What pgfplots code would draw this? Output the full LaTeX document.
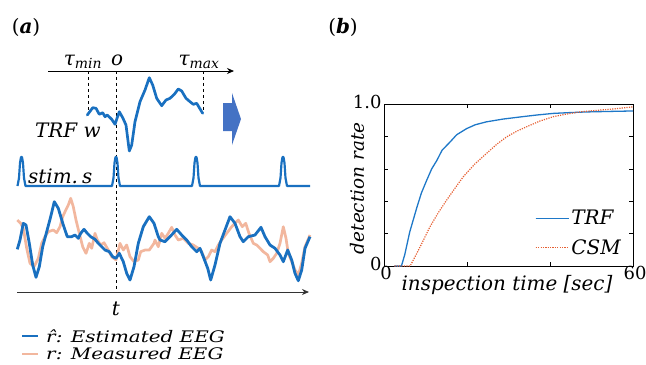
\documentclass[border=0pt]{standalone}
\usepackage{pgfplots}
\pgfplotsset{compat=1.18}
\usetikzlibrary{arrows.meta}
\usepackage{fontspec}
\setmainfont{DejaVu Serif}
\definecolor{eegblue}{RGB}{25,112,192}
\definecolor{salmon}{RGB}{242,183,158}
\definecolor{arrowblue}{RGB}{68,114,196}
\definecolor{trfblue}{RGB}{30,120,200}
\definecolor{csmred}{RGB}{230,95,50}
\newcommand\fs{\fontsize{20}{24}\selectfont}
\newcommand\fsl{\fontsize{16}{19}\selectfont}
\newcommand\fsy{\fontsize{18.5}{22}\selectfont}
\newcommand\fst{\fontsize{18}{21}\selectfont}
\begin{document}
\begin{tikzpicture}
\useasboundingbox (0,0) rectangle (646bp,-365bp);
% ---------------- panel (a) ----------------
\begin{axis}[at={(0bp,0bp)}, anchor=north west, scale only axis,
  width=320bp, height=365bp, xmin=0, xmax=320, ymin=0, ymax=365,
  y dir=reverse, hide axis, clip=false]
% top lag axis
\addplot[black, line width=0.8pt, -{Stealth[length=7bp,width=6bp]}] coordinates {(48,71) (234,71)};
% dashed guides
\addplot[black, dashed, line width=0.6pt] coordinates {(88,71) (88,115)};
\addplot[black, dashed, line width=0.6pt] coordinates {(116,71) (116,292)};
\addplot[black, dashed, line width=0.6pt] coordinates {(203,71) (203,111)};
% TRF w
\addplot[eegblue, line width=2.7pt, line join=round, line cap=round] coordinates {
(87.3,115) (92.7,107.7) (96,108.3) (99.3,114.3) (102.7,112.7) (105,116.7) (107.3,115)
(111.7,119.3) (115,124.3) (119.3,111.7) (122.7,117.7) (126,125) (129.3,151) (131.7,145)
(135,121.7) (140,101.7) (145,90) (149.3,77.7) (152.7,85) (156.7,98.3) (161.7,105.7)
(166,100) (170,98.3) (174.3,94.3) (178.3,89) (181.7,91) (186,98.3) (190,101.7)
(193.3,104.3) (196.7,103.3) (199.3,107.7) (202.7,113.3)};
% block arrow
\addplot[arrowblue, fill=arrowblue, draw=none] coordinates {
(223,103) (232,103) (232,93) (241,119) (232,145) (232,131) (223,131)} -- cycle;
% stimulus
\addplot[eegblue, line width=2.2pt, line join=round] coordinates {
(17.5,186) (19,178) (20,163) (21,157) (22,157) (23,163) (24,178) (25.5,186)
(112,186) (113.5,178) (114.5,163) (115.5,157) (116.5,157) (117.5,163) (118.5,178) (120,186)
(192,186) (193.5,178) (194.5,163) (195.5,157) (196.5,157) (197.5,163) (198.5,178) (200,186)
(279,186) (280.5,178) (281.5,163) (282.5,157) (283.5,157) (284.5,163) (285.5,178) (287,186)
(310,186)};
% measured EEG
\addplot[salmon, line width=2.7pt, line join=round] coordinates {
(17.3,220) (20.7,223.3) (23.3,228.3) (26.7,248.3) (30,263.3) (34,266.7) (38.3,258.3)
(41.7,243.3) (45,236.7) (48.3,231.7) (53.3,230) (56.7,232.7) (60,226.7) (62.7,216.7)
(65,211.7) (68.3,205) (70.7,198.3) (73.3,206.7) (76,220) (79.3,233.3) (82.7,246.7)
(86,253.3) (89.3,243.3) (91.7,248.3) (95,233.3) (97.3,240) (100.7,245) (104,242.7)
(108.3,250) (111.7,256.7) (116,260) (120,243.3) (123.3,250) (126.7,245) (130,256.7)
(134,261.7) (138.3,260) (140.7,251.7) (145,250) (149.3,250) (154,243.3) (155,240)
(158.3,246.7) (161.7,233.3) (165,238.3) (168.3,233.3) (171.7,227.3) (175,235) (178.3,240)
(183.3,238.3) (188.3,243.3) (193.3,245) (198.3,248.3) (201.7,251.7) (205,260) (208.3,256.7)
(211.7,250) (215,251.7) (218.3,245) (221.7,240) (226.7,233.3) (231.7,226.7) (235,223.3)
(238.3,220) (242.3,226.7) (245.7,223.3) (249,233.3) (253.3,243.3) (256.7,245) (260,248.3)
(263.3,251.7) (267.7,255) (270,261.7) (273.3,258.3) (276.7,253.3) (280,243.3) (283.3,226.7)
(286,238.3) (288.3,253.3) (291.7,261.7) (295,270) (298.3,275) (301.7,263.3) (305,246.7)
(310,235)};
% estimated EEG
\addplot[eegblue, line width=2.8pt, line join=round] coordinates {
(17.3,249.3) (20,240) (23.3,223.3) (26,225) (29.3,243.3) (32.7,265) (36,277.3) (39.3,266.7)
(42.7,246.7) (46.7,231.7) (50.7,216.7) (54.3,201.7) (58.3,208.3) (63.3,225) (67.3,236.7)
(71.7,236.7) (75,235) (78.3,238.3) (80.7,233.3) (84,229.3) (87.3,233.3) (90.7,236.7)
(95,239.3) (98.3,243.3) (101.7,246.7) (105,250) (109.3,251.7) (112.7,256.7) (116,258.3)
(119.3,253.3) (123.3,261.7) (126.7,273.3) (130,280) (134,266.7) (138.3,243.3) (143.3,226.7)
(149.3,216.7) (154,223.3) (158.3,236.7) (160,240) (165,241.7) (170,236.7) (176.7,229.3)
(181.7,235) (186.7,240) (191.7,246.7) (196.7,251.7) (200,248.3) (203.3,256.7) (207.7,268.3)
(210.7,280) (215,265) (220,243.3) (225,230) (230,216.7) (235,223.3) (240,236.7) (243.3,241.7)
(248.3,236.7) (255,235) (261,227.3) (265,236.7) (270,245) (275,248.3) (280,255) (283.3,261.7)
(287.7,250) (291.7,260) (295,273.3) (298.3,280.7) (301.7,270) (305,248.3) (310,236.7)};
% time axis
\addplot[black!80, line width=0.8pt, -{Stealth[length=7bp,width=6bp]}] coordinates {(17,292) (309,292)};
% legend lines
\addplot[eegblue, line width=2.8pt] coordinates {(22,336) (38,336)};
\addplot[salmon, line width=2.8pt] coordinates {(22,354) (38,354)};
% texts
\node[font=\fs] at (axis cs:26,27) {(\textbf{\textit{a}})};
\node[font=\fs\itshape, anchor=base] at (axis cs:83,65) {τ\textsubscript{min}};
\node[font=\fs\itshape, anchor=base] at (axis cs:117,65) {o};
\node[font=\fs\itshape, anchor=base] at (axis cs:199,65) {τ\textsubscript{max}};
\node[font=\fs\itshape, anchor=base west, inner sep=0pt] at (axis cs:35,137) {TRF w};
\node[font=\fs\itshape, anchor=base west, inner sep=0pt] at (axis cs:28,183) {stim.\hspace{4bp}s};
\node[font=\fs\itshape, anchor=center] at (axis cs:116,309) {t};
\node[font=\fsl\itshape, anchor=base west, inner sep=0pt, xscale=1.25, transform shape] at (axis cs:46,342) {r̂: Estimated EEG};
\node[font=\fsl\itshape, anchor=base west, inner sep=0pt, xscale=1.25, transform shape] at (axis cs:46,359) {r: Measured EEG};
\end{axis}
\node[font=\fs] at (343bp,-27bp) {(\textbf{\textit{b}})};
% ---------------- panel (b) ----------------
\begin{axis}[at={(384bp,-104bp)}, anchor=north west, scale only axis,
  width=249bp, height=162bp, xmin=0, xmax=60, ymin=0, ymax=1,
  axis line style={black, line width=0.8pt},
  tick style={black, line width=0.6pt}, tick align=inside, major tick length=4bp,
  xtick={0,20,40,60}, xticklabels={0,,,60},
  ytick={0,0.2,0.4,0.6,0.8,1}, yticklabels={0,,,,,1.0},
  ticklabel style={font=\fst},
  xticklabel style={yshift=3bp, xshift=2bp},
  yticklabel style={xshift=1bp, yshift=2bp},
  xlabel={inspection time [sec]}, ylabel={detection rate},
  xlabel style={font=\fs\itshape, at={(axis description cs:0.494,-0.117)}, anchor=center},
  ylabel style={font=\fsy\itshape, at={(axis description cs:-0.108,0.48)}, anchor=center},
  legend style={draw=none, fill=none, at={(axis description cs:0.594,0.37)}, anchor=north west,
    font=\fs\itshape, row sep=9bp},
  legend cell align=left,
  legend image code/.code={\draw[#1] (0bp,0bp) -- (23bp,0bp); \path (0bp,0bp) -- (33bp,0bp);},
  clip=false]
\addplot[trfblue, line width=1.3pt] coordinates {
(2.5,0) (4.2,0) (5,0.07) (6.2,0.21) (7.9,0.36) (9,0.45) (10.3,0.53) (11.5,0.6) (12.7,0.65)
(14,0.715) (15.9,0.765) (17.5,0.81) (19.9,0.848) (22,0.872) (24.7,0.89) (28.7,0.907)
(32.8,0.92) (36.8,0.932) (40.8,0.942) (44.8,0.947) (48.8,0.951) (54,0.954) (60,0.957)};
\addlegendentry{TRF}
\addplot[csmred, line width=1.2pt, dash pattern=on 1.2pt off 1.2pt] coordinates {
(2.5,0) (6.3,0) (7.9,0.078) (9.5,0.16) (11.1,0.243) (13.1,0.33) (15.1,0.407) (17.1,0.48)
(19.1,0.551) (21.9,0.63) (24.7,0.695) (27.1,0.75) (29.6,0.798) (32,0.832) (34.4,0.86)
(37.6,0.895) (40.8,0.922) (44,0.938) (47.2,0.951) (50.5,0.959) (53.7,0.966) (57,0.974) (60,0.982)};
\addlegendentry{CSM}
\end{axis}
\end{tikzpicture}
\end{document}
